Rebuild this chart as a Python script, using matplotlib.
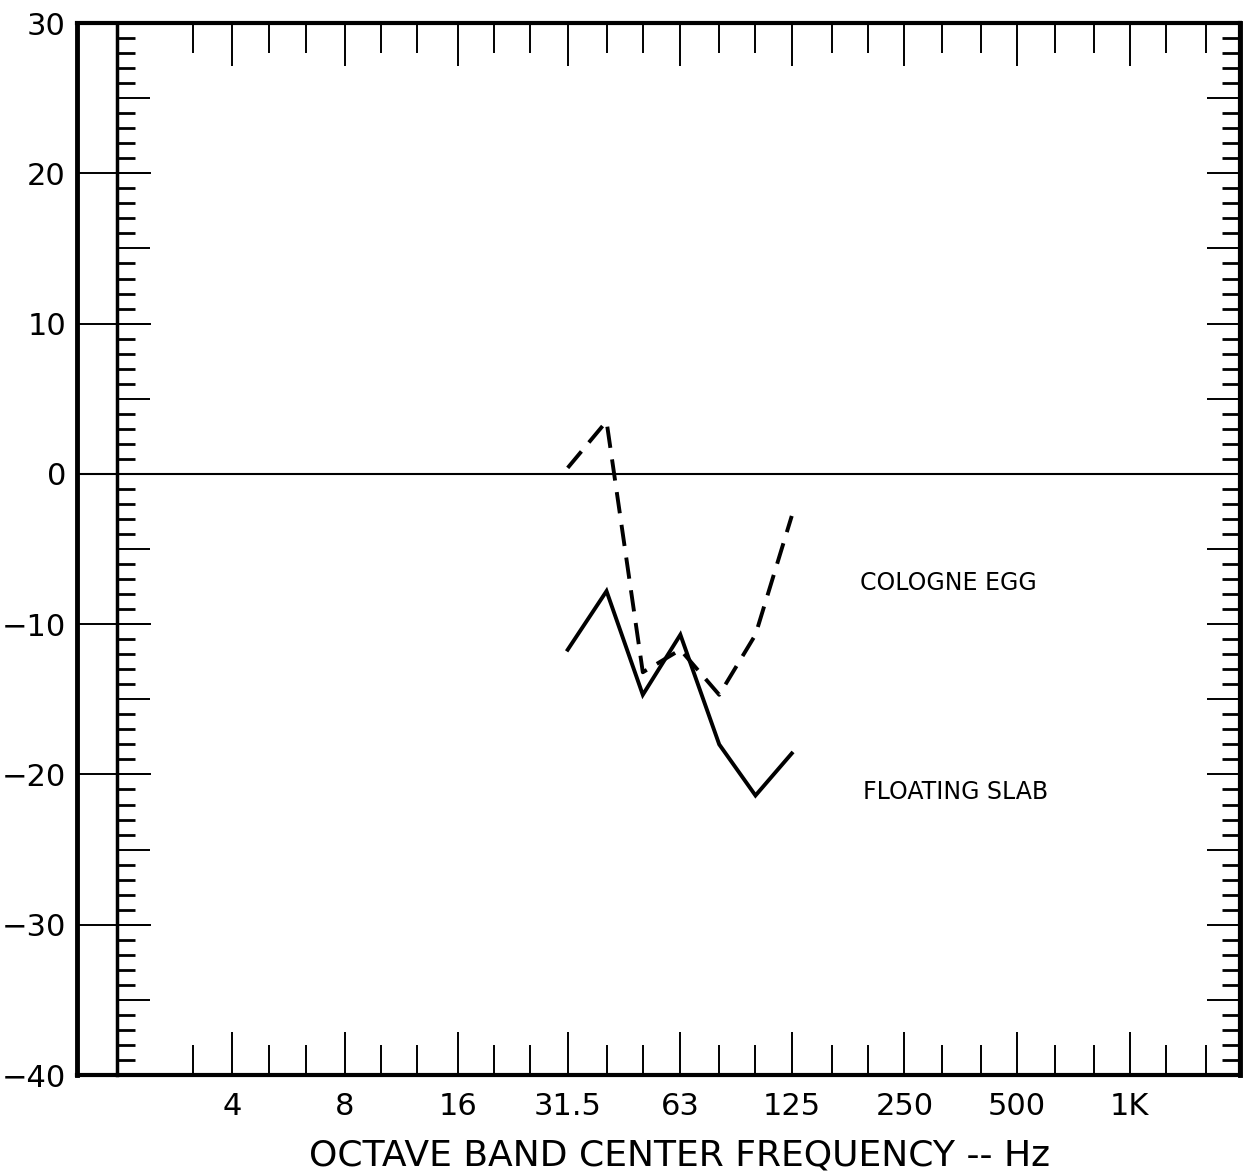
import matplotlib
matplotlib.use("Agg")
import matplotlib.pyplot as plt
from matplotlib.ticker import FixedLocator, FixedFormatter, NullFormatter, MultipleLocator

# octave band centre frequencies (Hz) for the two curves
freqs = [31.5, 40, 50, 63, 80, 100, 125]
floating_slab = [-11.7, -7.8, -14.7, -10.7, -18.0, -21.4, -18.6]
cologne_egg = [0.4, 3.5, -13.2, -11.7, -14.7, -10.7, -2.8]

octave_ticks = [4, 8, 16, 31.5, 63, 125, 250, 500, 1000]
octave_labels = ["4", "8", "16", "31.5", "63", "125", "250", "500", "1K"]
third_ticks = [3.15, 5, 6.3, 10, 12.5, 20, 25, 40, 50, 80, 100, 160, 200,
               315, 400, 630, 800, 1250, 1600]
y_ticks = [-40, -30, -20, -10, 0, 10, 20, 30]

plt.rcParams['font.family'] = ['DejaVu Sans']

fig = plt.figure(figsize=(12.49, 11.74), dpi=100)
ax = fig.add_axes([0.0617, 0.0843, 0.9311, 0.8961])

ax.set_xscale('log', base=2)
ax.set_xlim(1.54, 1970)
ax.set_ylim(-40, 30)

ax.plot(freqs, floating_slab, color='black', lw=2.8, solid_joinstyle='miter')
ax.plot(freqs, cologne_egg, color='black', lw=2.8, dashes=(5.5, 3))
ax.axhline(0, color='black', lw=1.5)

ax.text(190, -7.25, "COLOGNE EGG", fontsize=17, va='center', ha='left')
ax.text(194, -21.2, "FLOATING SLAB", fontsize=17, va='center', ha='left')

for s in ax.spines.values():
    s.set_linewidth(3)
ax.spines['left'].set_linewidth(3.5)

# x ticks: octave (long) and third octave (short) on top and bottom
ax.xaxis.set_major_locator(FixedLocator(octave_ticks))
ax.xaxis.set_major_formatter(FixedFormatter(octave_labels))
ax.xaxis.set_minor_locator(FixedLocator(third_ticks))
ax.xaxis.set_minor_formatter(NullFormatter())
ax.tick_params(axis='x', which='both', direction='in', top=True, bottom=True)
ax.tick_params(axis='x', which='major', length=31, width=1.4, labelsize=22, pad=12)
ax.tick_params(axis='x', which='minor', length=21.5, width=1.4)

# y: long decade ticks from the outer frame
ax.yaxis.set_major_locator(FixedLocator(y_ticks))
ax.yaxis.set_minor_locator(FixedLocator([]))
ax.tick_params(axis='y', which='major', direction='in', left=True, right=False,
               length=53, width=1.4, labelsize=22, pad=8)

# inner scale line with 1 dB ticks
inner = ax.secondary_yaxis(0.0344)
inner.spines['left'].set_linewidth(2.5)
inner.yaxis.set_major_locator(MultipleLocator(5))
inner.yaxis.set_minor_locator(MultipleLocator(1))
inner.tick_params(which='both', direction='in', labelleft=False)
inner.tick_params(which='major', length=24, width=1.4)
inner.tick_params(which='minor', length=13, width=2)

# right side 1 dB ticks
right = ax.secondary_yaxis('right')
right.spines['right'].set_linewidth(3.5)
right.yaxis.set_major_locator(MultipleLocator(5))
right.yaxis.set_minor_locator(MultipleLocator(1))
right.tick_params(which='both', direction='in', labelright=False)
right.tick_params(which='major', length=24, width=1.4)
right.tick_params(which='minor', length=13, width=2)

ax.set_xlabel("OCTAVE BAND CENTER FREQUENCY -- Hz", fontsize=26)
ax.xaxis.set_label_coords(0.518, -0.06)

fig.savefig("out.png", dpi=100)
